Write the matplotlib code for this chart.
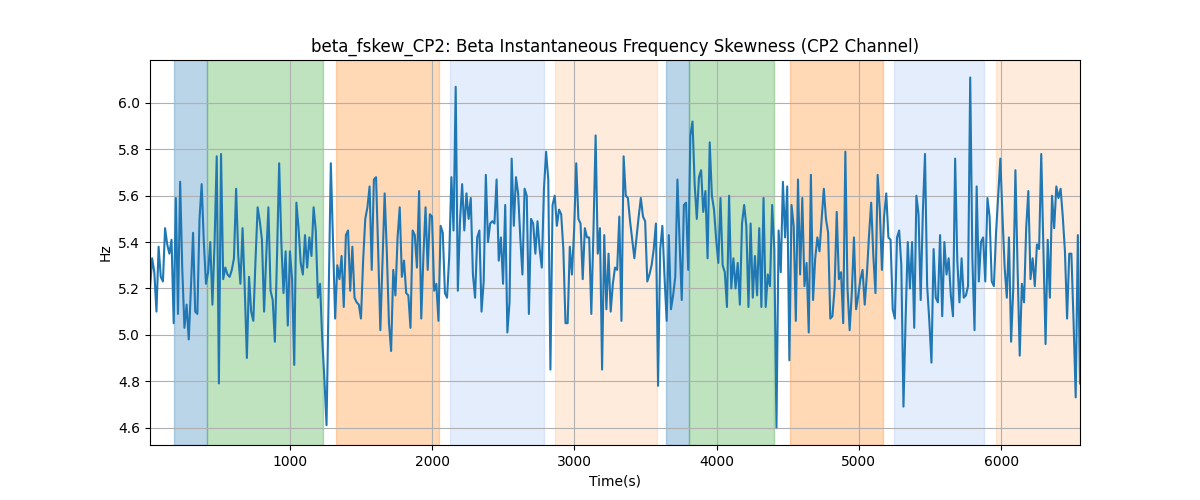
import numpy as np
import matplotlib
matplotlib.use("Agg")
import matplotlib.pyplot as plt

vals = [
    5.20, 5.33, 5.27, 5.10, 5.38, 5.25, 5.23, 5.46, 5.39, 5.35, 5.41, 5.05, 5.59, 5.09, 5.66,
    5.28, 5.03, 5.13, 4.98, 5.20, 5.44, 5.10, 5.09, 5.50, 5.65, 5.40, 5.22, 5.27, 5.40, 5.13,
    5.40, 5.77, 4.79, 5.78, 5.24, 5.29, 5.26, 5.25, 5.28, 5.33, 5.63, 5.34, 5.22, 5.46,
    5.20, 4.90, 5.25, 5.10, 5.06, 5.32, 5.55, 5.49, 5.41, 5.10, 5.34, 5.55, 5.19, 5.15, 4.97,
    5.34, 5.74, 5.40, 5.18, 5.36, 5.04, 5.36, 5.24, 4.87, 5.57, 5.46, 5.31, 5.26, 5.43, 5.29,
    5.42, 5.34, 5.55, 5.45, 5.16, 5.22, 4.98, 4.81, 4.61, 5.18, 5.74, 5.40, 5.07,
    5.30, 5.24, 5.34, 5.12, 5.43, 5.45, 5.19, 5.38, 5.16, 5.14, 5.13, 5.07, 5.32, 5.50, 5.55,
    5.64, 5.28, 5.67, 5.68, 5.36, 5.02, 5.32, 5.61, 5.36, 5.05, 4.93, 5.28, 5.17, 5.42, 5.55,
    5.25, 5.32, 5.18, 5.17, 5.03, 5.45, 5.43, 5.29, 5.62, 5.07, 5.34, 5.55, 5.28, 5.52, 5.51,
    5.19, 5.22, 5.06, 5.47, 5.44, 5.18, 5.16, 5.34, 5.68, 5.45, 6.07, 5.19, 5.49, 5.65, 5.45,
    5.61, 5.50, 5.59, 5.26, 5.16, 5.42, 5.45, 5.10, 5.23, 5.69, 5.40, 5.48, 5.49, 5.48, 5.67,
    5.32, 5.42, 5.22, 5.56, 5.01, 5.14, 5.76, 5.47, 5.68, 5.61, 5.42, 5.26, 5.63, 5.60,
    5.09, 5.50, 5.48, 5.35, 5.49, 5.37, 5.29, 5.63, 5.79, 5.67, 4.85, 5.56, 5.60, 5.47, 5.54,
    5.52, 5.37, 5.05, 5.05, 5.38, 5.26, 5.45, 5.74, 5.50, 5.48, 5.24, 5.46, 5.42, 5.42, 5.09,
    5.45, 5.86, 5.35, 5.46, 4.85, 5.43, 5.11, 5.35, 5.10, 5.22, 5.29, 5.28, 5.51, 5.06, 5.77,
    5.60, 5.59, 5.49, 5.41, 5.33, 5.42, 5.51, 5.59, 5.51, 5.49, 5.23, 5.26, 5.30, 5.37, 5.48,
    4.78, 5.37, 5.47, 5.25, 5.06, 5.43, 5.11, 5.17, 5.25, 5.67, 5.40, 5.15, 5.56, 5.57, 5.28,
    5.86, 5.92, 5.65, 5.50, 5.68, 5.71, 5.53, 5.62, 5.33, 5.83, 5.60, 5.54, 5.41, 5.31,
    5.59, 5.30, 5.27, 5.12, 5.60, 5.20, 5.33, 5.20, 5.31, 5.13, 5.48, 5.56, 5.47, 5.12, 5.48,
    5.16, 5.34, 5.17, 5.46, 5.12, 5.59, 5.12, 5.26, 5.21, 5.56, 5.37, 4.60, 5.45, 5.27, 5.66,
    5.42, 5.64, 4.89, 5.56, 5.47, 5.06, 5.67, 5.26, 5.59, 5.21, 5.31, 5.01, 5.69,
    5.15, 5.33, 5.42, 5.36, 5.50, 5.63, 5.50, 5.44, 5.07, 5.08, 5.20, 5.53, 5.24, 5.27, 5.05,
    5.79, 5.20, 5.02, 5.18, 5.42, 5.11, 5.17, 5.24, 5.28, 5.13, 5.26, 5.43, 5.57, 5.34, 5.18,
    5.69, 5.54, 5.28, 5.51, 5.61, 5.42, 5.41, 5.11, 5.07, 5.42, 5.45, 5.30, 4.69, 5.07, 5.40,
    5.20, 5.40, 5.03, 5.60, 5.52, 5.15, 5.53, 5.78, 5.21, 5.06, 4.88, 5.37, 5.16, 5.14, 5.43,
    5.08, 5.40, 5.26, 5.33, 5.17, 5.08, 5.76, 5.32, 5.14, 5.33, 5.16, 5.17, 5.21, 6.11, 5.33,
    5.02, 5.64, 5.23, 5.40, 5.42, 5.23, 5.59, 5.51, 5.23, 5.21, 5.44, 5.60, 5.76, 5.51, 5.29,
    5.16, 5.42, 4.97, 5.20, 5.71, 5.29, 4.91, 5.22, 5.14, 5.46, 5.62, 5.24, 5.33, 5.21, 5.39,
    5.37, 5.78, 5.36, 4.96, 5.41, 5.16, 5.60, 5.46, 5.64, 5.59, 5.63, 5.51, 5.36, 5.07, 5.35,
    5.35, 5.06, 4.73, 5.43, 4.79,
]
t_start = 15
t_end = 6555

# shaded phases: (start, end, color, alpha)
span_start = [185, 417, 1322, 2124, 2863, 3644, 3807, 4516, 5247, 5965]
span_end = [417, 1233, 2047, 2787, 3579, 3807, 4402, 5167, 5878, 6700]
span_color = ['tab:blue', 'tab:green', 'tab:orange', 'cornflowerblue', 'tab:orange',
              'tab:blue', 'tab:green', 'tab:orange', 'cornflowerblue', 'tab:orange']
span_alpha = [0.3, 0.3, 0.3, 0.17, 0.15, 0.3, 0.3, 0.3, 0.17, 0.15]

t = np.linspace(t_start, t_end, len(vals))

fig, ax = plt.subplots(figsize=(12, 5), dpi=100)
for s, e, c, a in zip(span_start, span_end, span_color, span_alpha):
    ax.axvspan(s, e, color=c, alpha=a)
ax.plot(t, vals, color='tab:blue', linewidth=1.5)
ax.set_xlim(t[0], t[-1])
ax.grid(True)
ax.set_title('beta_fskew_CP2: Beta Instantaneous Frequency Skewness (CP2 Channel)')
ax.set_xlabel('Time(s)')
ax.set_ylabel('Hz')

fig.savefig('out.png')
